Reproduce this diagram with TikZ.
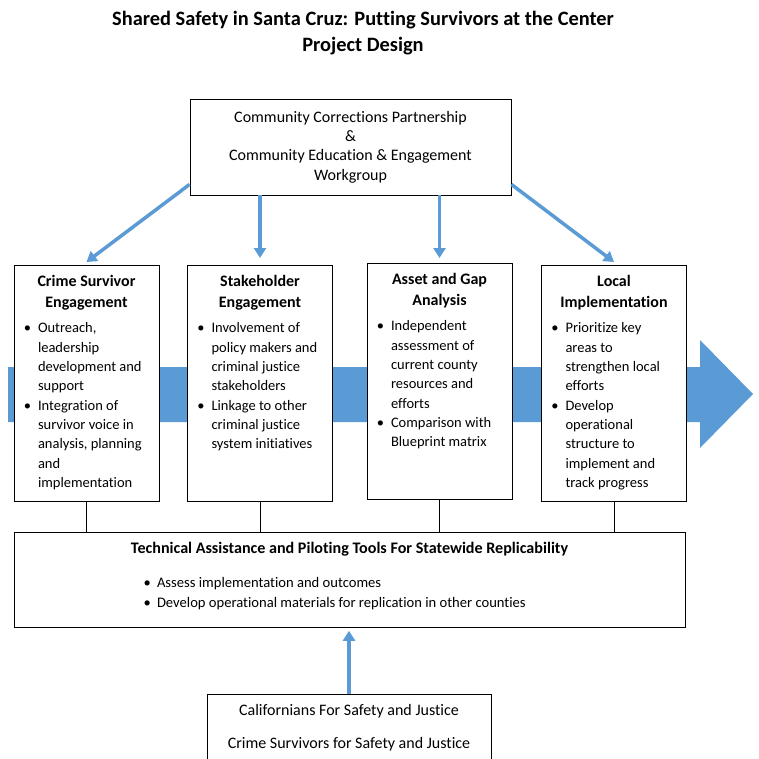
\documentclass[tikz,border=0pt]{standalone}
\usepackage{fontspec}
\setmainfont{Carlito}[Ligatures=NoCommon]
\usepackage{enumitem}
\usetikzlibrary{arrows.meta}

\definecolor{flowblue}{HTML}{5B9BD5}
\tikzset{
  stage/.style={rectangle, draw, fill=white, line width=0.8pt, inner sep=0pt, anchor=north},
  feed/.style={flowblue, line width=3.5pt, -{Triangle[length=10pt,width=12pt]}},
  tie/.style={line width=1pt},
}
\setlist[itemize]{label=\textbullet, itemsep=0pt, topsep=0pt, parsep=0pt, partopsep=0pt}

\newcommand{\stagebody}[2]{%
  \parbox[c][236pt][t]{145pt}{%
    \vspace*{10pt}%
    {\centering\fontsize{16}{21}\selectfont\bfseries #1\par}%
    \vspace{6pt}%
    \fontsize{14.5}{19.3}\selectfont\raggedright
    \begin{itemize}[leftmargin=24pt, labelsep=7pt]
    #2
    \end{itemize}}}

\begin{document}
\begin{tikzpicture}[x=1pt, y=-1pt]
  \useasboundingbox (0,0) rectangle (759,759);

  % title
  \node[align=center, font=\fontsize{20.4}{26}\selectfont\bfseries] (title) at (363,33)
    {Shared Safety in Santa Cruz: Putting Survivors at the Center\\Project Design};

  % flow arrow behind the stages
  \fill[flowblue] (8,367) -- (700,367) -- (700,340) -- (753,394) -- (700,448) -- (700,422) -- (8,422) -- cycle;

  \node[stage, anchor=center, minimum width=321pt, minimum height=96pt, align=center,
        font=\fontsize{16}{19.3}\selectfont] (ccp) at (350.5,147)
    {Community Corrections Partnership\\\&\\Community Education \& Engagement\\Workgroup};

  \node[stage] (cse) at (86.5,265) {\stagebody{Crime Survivor\\Engagement}{%
    \item Outreach,\\leadership\\development and\\support
    \item Integration of\\survivor voice in\\analysis, planning\\and\\implementation}};
  \node[stage] (sth) at (260,265) {\stagebody{Stakeholder\\Engagement}{%
    \item Involvement of\\policy makers and\\criminal justice\\stakeholders
    \item Linkage to other\\criminal justice\\system initiatives}};
  \node[stage] (aga) at (439.5,263) {\stagebody{Asset and Gap\\Analysis}{%
    \item Independent\\assessment of\\current county\\resources and\\efforts
    \item Comparison with\\Blueprint matrix}};
  \node[stage] (loc) at (614,265) {\stagebody{Local\\Implementation}{%
    \item Prioritize key\\areas to\\strengthen local\\efforts
    \item Develop\\operational\\structure to\\implement and\\track progress}};

  \node[stage] (ta) at (349.5,532) {\parbox[c][95pt][t]{671pt}{%
    \vspace*{10pt}%
    {\centering\fontsize{16.1}{16}\selectfont\bfseries Technical Assistance and Piloting Tools For Statewide Replicability\par}%
    \vspace{14pt}%
    \fontsize{14.6}{20}\selectfont
    \begin{itemize}[leftmargin=143pt, labelsep=6pt]
    \item Assess implementation and outcomes
    \item Develop operational materials for replication in other counties
    \end{itemize}}};

  \node[stage] (fund) at (349,694) {\parbox[c][90pt][t]{284pt}{%
    \centering\fontsize{16}{33}\selectfont
    \vspace*{10pt}%
    Californians For Safety and Justice\\Crime Survivors for Safety and Justice}};

  % connectors
  \draw[feed] ([yshift=11pt]ccp.south west) -- ([yshift=3pt]cse.north);
  \draw[feed] (ccp.south -| sth.north) -- ([yshift=7pt]sth.north);
  \draw[feed] (ccp.south -| aga.north) -- ([yshift=5pt]aga.north);
  \draw[feed] ([yshift=11pt]ccp.south east) -- ([yshift=3pt]loc.north);
  \draw[feed, shorten >=3pt] (fund.north) -- (fund.north |- ta.south);
  \foreach \s in {cse,sth,aga,loc}
    \draw[tie] (\s.south) -- (\s.south |- ta.north);
\end{tikzpicture}
\end{document}
